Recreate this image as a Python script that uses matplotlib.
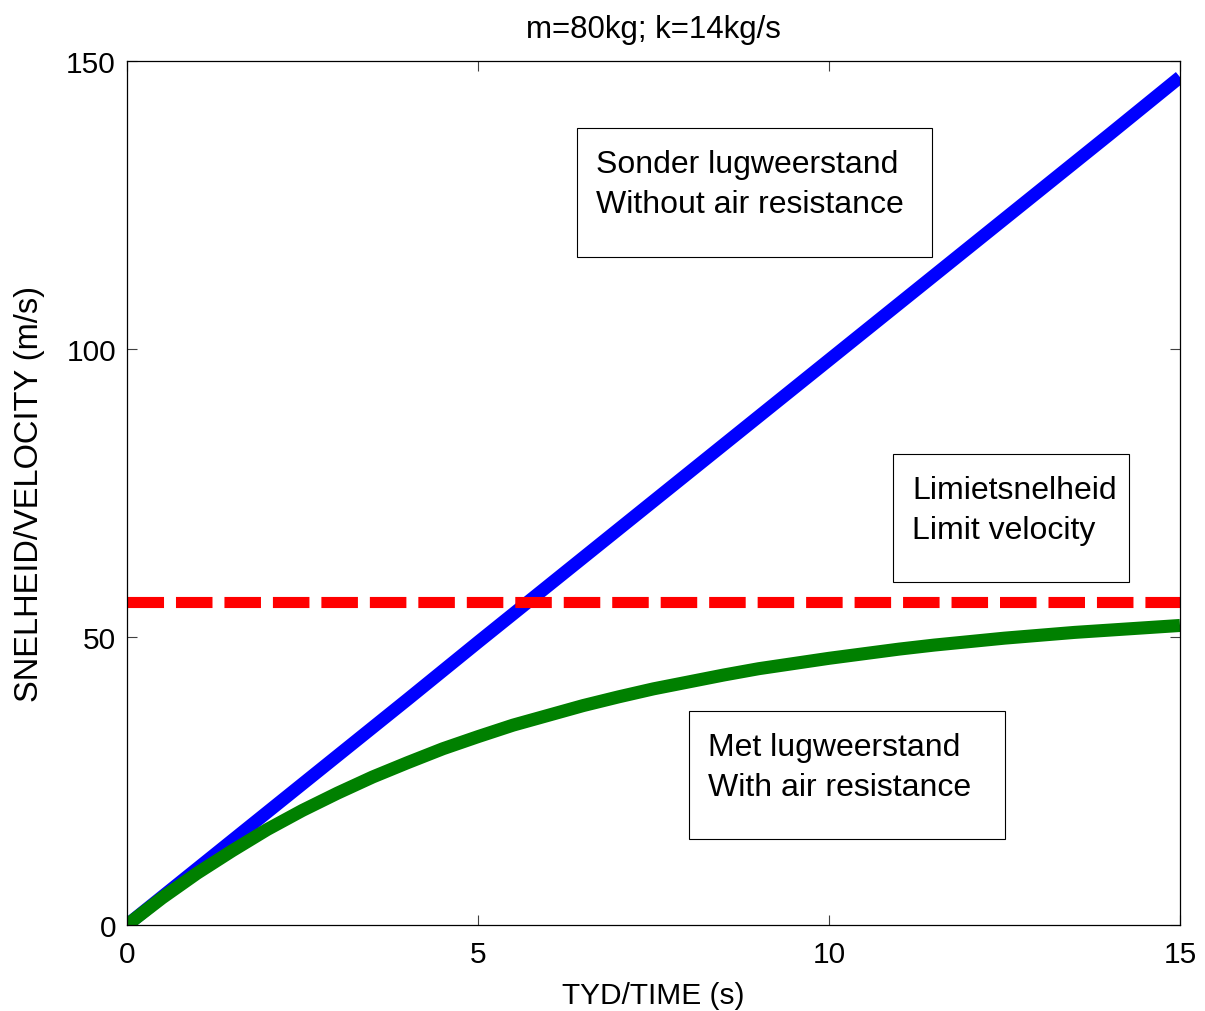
import matplotlib
matplotlib.use("Agg")
import matplotlib.pyplot as plt
from matplotlib.patches import Rectangle

# values
t_free = [0, 1, 2, 3, 4, 5, 6, 7, 8, 9, 10, 11, 12, 13, 14, 15]
v_free = [0, 9.8, 19.6, 29.4, 39.2, 49.1, 58.9, 68.7, 78.5, 88.3,
          98.1, 107.9, 117.7, 127.5, 137.3, 147.2]

t_drag = [0, 0.5, 1, 1.5, 2, 2.5, 3, 3.5, 4, 4.5, 5, 5.5, 6, 6.5, 7, 7.5,
          8, 8.5, 9, 9.5, 10, 10.5, 11, 11.5, 12, 12.5, 13, 13.5, 14, 14.5, 15]
v_drag = [0, 4.7, 9.0, 12.9, 16.6, 19.9, 22.9, 25.7, 28.2, 30.6, 32.7,
          34.7, 36.4, 38.1, 39.6, 41.0, 42.2, 43.4, 44.5, 45.4, 46.3,
          47.1, 47.9, 48.6, 49.2, 49.8, 50.3, 50.8, 51.2, 51.6, 52.0]

t_limit = [0, 15]
v_limit = [56.1, 56.1]

x_ticks = [0, 5, 10, 15]
y_ticks = [0, 50, 100, 150]

notes = [
    ("Sonder lugweerstand", "Without air resistance"),
    ("Limietsnelheid", "Limit velocity"),
    ("Met lugweerstand", "With air resistance"),
]

plt.rcParams['font.family'] = ['Liberation Sans', 'DejaVu Sans']
plt.rcParams['lines.scale_dashes'] = False

W, H = 1205, 1012
fig = plt.figure(figsize=(W / 100, H / 100), dpi=100)
ax = fig.add_axes([127 / W, 1 - 926 / H, (1180 - 127) / W, (926 - 62) / H])

ax.plot(t_free, v_free, color=(0, 0, 1), lw=9.4, solid_capstyle='butt')
ax.plot(t_drag, v_drag, color=(0, 0.5, 0), lw=9.4, solid_capstyle='butt')
ax.plot(t_limit, v_limit, color=(1, 0, 0), lw=8, dashes=(26.3, 8.6))

ax.set_xlim(0, 15)
ax.set_ylim(0, 150)
ax.set_xticks(x_ticks)
ax.set_yticks(y_ticks)
ax.tick_params(direction='in', length=7, width=0.8, labelsize=21.5,
               top=True, right=True, color='#404040')
ax.tick_params(axis='x', pad=11)
ax.tick_params(axis='y', pad=8)
for s in ax.spines.values():
    s.set_linewidth(0.9)

ax.set_title("m=80kg; k=14kg/s", fontsize=22.5, pad=17)
ax.set_xlabel("TYD/TIME (s)", fontsize=21.5, labelpad=9)
ax.set_ylabel("SNELHEID/VELOCITY (m/s)", fontsize=23.5, labelpad=15)

# annotation boxes, in figure pixels (left, top, right, bottom)
boxes = [(577, 129, 932, 258), (893, 455, 1129, 583), (689, 712, 1005, 840)]
for (l, t, r, b), (line1, line2) in zip(boxes, notes):
    fig.add_artist(Rectangle((l / W, 1 - b / H), (r - l) / W, (b - t) / H,
                             transform=fig.transFigure, fill=False,
                             edgecolor='black', lw=0.8))
    fig.text((l + 19) / W, 1 - (t + 44) / H, line1, fontsize=23, va='baseline')
    fig.text((l + 19) / W, 1 - (t + 84) / H, line2, fontsize=23, va='baseline')

fig.savefig("out.png", dpi=100)
